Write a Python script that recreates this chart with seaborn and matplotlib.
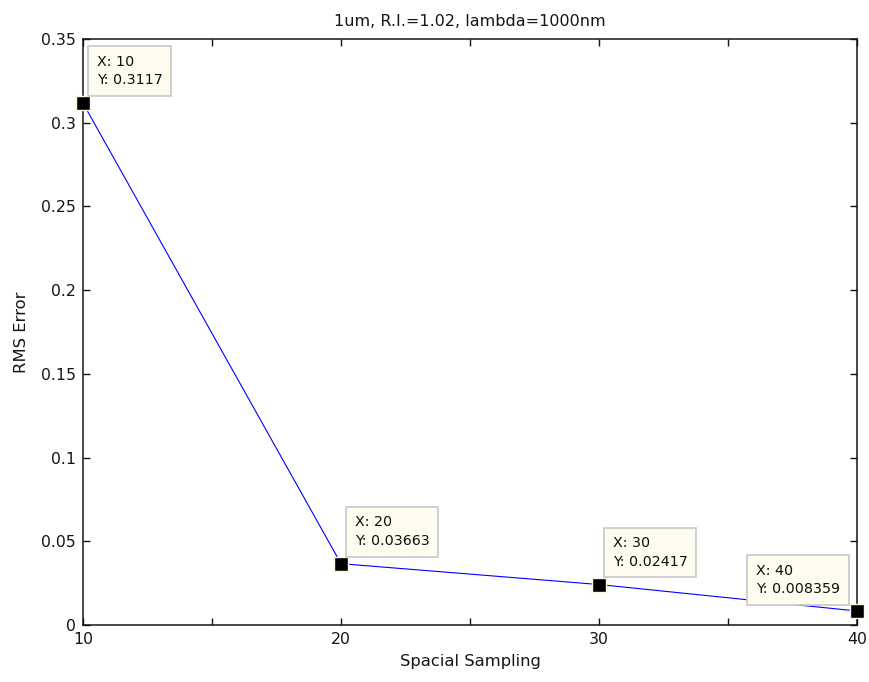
import matplotlib
matplotlib.use("Agg")
import matplotlib.pyplot as plt
import seaborn as sns
import pandas as pd

# ---- data ----
sampling = [10, 20, 30, 40]
rms_error = [0.3117, 0.03663, 0.02417, 0.008359]
x_ticks = [10, 15, 20, 25, 30, 35, 40]
x_tick_labels = ["10", "", "20", "", "30", "", "40"]
y_ticks = [0, 0.05, 0.1, 0.15, 0.2, 0.25, 0.3, 0.35]
y_tick_labels = ["0", "0.05", "0.1", "0.15", "0.2", "0.25", "0.3", "0.35"]
title = "1um, R.I.=1.02, lambda=1000nm"
x_label = "Spacial Sampling"
y_label = "RMS Error"

df = pd.DataFrame({"x": sampling, "y": rms_error})

sns.set_style("ticks")
plt.rcParams["font.family"] = ["DejaVu Sans"]

fig = plt.figure(figsize=(8.69, 6.82), dpi=100)
ax = fig.add_axes([83 / 869, 1 - 625 / 682, (857 - 83) / 869, (625 - 39) / 682])

sns.lineplot(data=df, x="x", y="y", ax=ax, color="#0000ff", linewidth=0.8, zorder=2)
sns.scatterplot(data=df, x="x", y="y", ax=ax, marker="s", s=95, color="black",
                edgecolor="#fff8e8", linewidth=1.0, zorder=4, clip_on=False)

ax.set_xlim(10, 40)
ax.set_ylim(0, 0.35)
ax.set_xticks(x_ticks)
ax.set_xticklabels(x_tick_labels)
ax.set_yticks(y_ticks)
ax.set_yticklabels(y_tick_labels)

for s in ax.spines.values():
    s.set_visible(True)
    s.set_color("#151515")
    s.set_linewidth(1.1)

ax.tick_params(direction="in", length=5, width=1.0, color="#151515",
               top=True, right=True, labelsize=11.3, labelcolor="#151515", pad=5)

ax.set_title(title, fontsize=11.5, color="#151515", pad=9)
ax.set_xlabel(x_label, fontsize=11.8, color="#151515", labelpad=5)
ax.set_ylabel(y_label, fontsize=11.8, color="#151515", labelpad=9)

offsets = [(10, 13.5, "left"), (10, 13.5, "left"), (10, 13.5, "left"), (-12.2, 12.8, "right")]
for (xv, yv), (dx, dy, ha) in zip(zip(sampling, rms_error), offsets):
    ax.annotate(f"X: {xv}\nY: {yv:.4g}", xy=(xv, yv), xytext=(dx, dy),
                textcoords="offset points", ha=ha, va="baseline", multialignment="left",
                fontsize=10.3, color="#101010", linespacing=1.42, zorder=5,
                annotation_clip=False,
                bbox=dict(boxstyle="square,pad=0.6", facecolor="#fffdf0",
                          edgecolor="#c8c8c8", linewidth=1.2))

fig.savefig("out.png", dpi=100, facecolor="white")
